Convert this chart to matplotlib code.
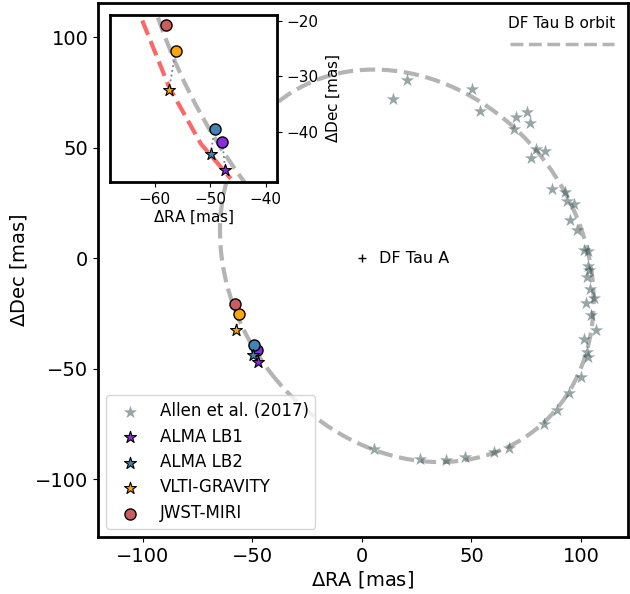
import matplotlib.pyplot as plt
from matplotlib.patches import Ellipse
from matplotlib.lines import Line2D

# Allen et al. (2017) relative astrometry of DF Tau B [mas]
allen_ra = [14.3, 20.4, 50.1, 53.9, 70.2, 75.2, 76.7, 69.4, 79.5, 83.6, 77.0,
            86.6, 92.7, 93.8, 96.8, 95.0, 98.0, 101.5, 103.3, 103.3, 102.6,
            103.8, 104.1, 105.9, 102.3, 104.6, 106.8, 101.5, 102.6, 103.3,
            99.9, 5.5, 26.5, 38.2, 47.3, 60.3, 67.1, 83.1, 89.2, 94.5]
allen_dec = [72.1, 80.6, 76.7, 66.5, 64.0, 66.0, 61.2, 58.5, 49.4, 48.3, 45.3,
             31.2, 30.1, 25.6, 24.5, 17.3, 12.7, 3.6, 3.3, -3.6, -8.5,
             -5.5, -14.2, -17.9, -20.3, -25.9, -32.7, -36.8, -42.6, -44.9,
             -54.0, -86.5, -91.0, -91.5, -90.0, -87.6, -86.0, -74.9, -68.8, -61.2]

# new epochs: measured (stars) and predicted on the orbit (circles)
lb1_ra, lb1_dec = -47.3, -46.9
lb1_pred_ra, lb1_pred_dec = -47.8, -41.8
lb2_ra, lb2_dec = -49.9, -43.9
lb2_pred_ra, lb2_pred_dec = -49.2, -39.4
grav_ra, grav_dec = -57.4, -32.4
grav_pred_ra, grav_pred_dec = -56.2, -25.5
jwst_ra, jwst_dec = -58.0, -20.8

# DF Tau B orbit (ellipse)
orbit_center = (20.5, -3.5)
orbit_width = 189.2
orbit_height = 157.6
orbit_angle = -51.4

# other orbit track shown in the zoom
alt_ra = [-62.2, -57.4, -51.7, -46.3]
alt_dec = [-20.0, -31.9, -42.1, -48.4]

orbit_color = '#b4b4b4'


def draw(ax, ms=64, ms_star=80):
    ax.add_patch(Ellipse(orbit_center, orbit_width, orbit_height, angle=orbit_angle,
                         fill=False, ls='--', lw=3, color=orbit_color, zorder=1))
    for p, o in [((grav_pred_ra, grav_pred_dec), (grav_ra, grav_dec)),
                 ((lb2_pred_ra, lb2_pred_dec), (lb2_ra, lb2_dec)),
                 ((lb1_pred_ra, lb1_pred_dec), (lb1_ra, lb1_dec))]:
        ax.plot([p[0], o[0]], [p[1], o[1]], ls=':', color='gray', lw=1.3, zorder=2)
    ax.scatter(lb1_pred_ra, lb1_pred_dec, s=ms, c='blueviolet', edgecolors='k', lw=1, zorder=3)
    ax.scatter(lb2_pred_ra, lb2_pred_dec, s=ms, c='steelblue', edgecolors='k', lw=1, zorder=3)
    ax.scatter(grav_pred_ra, grav_pred_dec, s=ms, c='orange', edgecolors='k', lw=1, zorder=3)
    ax.scatter(allen_ra, allen_dec, s=100, marker='*', c='darkslategray', alpha=0.5,
               lw=0, zorder=3, label='Allen et al. (2017)')
    ax.scatter(lb1_ra, lb1_dec, s=ms_star, marker='*', c='blueviolet', edgecolors='k', lw=0.8,
               zorder=4, label='ALMA LB1')
    ax.scatter(lb2_ra, lb2_dec, s=ms_star, marker='*', c='steelblue', edgecolors='k', lw=0.8,
               zorder=4, label='ALMA LB2')
    ax.scatter(grav_ra, grav_dec, s=ms_star, marker='*', c='orange', edgecolors='k', lw=0.8,
               zorder=4, label='VLTI-GRAVITY')
    ax.scatter(jwst_ra, jwst_dec, s=ms, c='indianred', edgecolors='k', lw=1,
               zorder=3, label='JWST-MIRI')


fig = plt.figure(figsize=(6.3, 5.94), dpi=100)
ax = fig.add_axes([98 / 630, 57 / 594, 530 / 630, 534 / 594])
draw(ax)
ax.plot(0, 0, '+', color='k', ms=6, mew=1)
ax.text(8, 0, 'DF Tau A', va='center', fontsize=11.5)
ax.set_xlim(-120.5, 121.5)
ax.set_ylim(-126.2, 115.4)
ax.set_xlabel(r'$\Delta$RA [mas]', fontsize=14, labelpad=2)
ax.set_ylabel(r'$\Delta$Dec [mas]', fontsize=14)
ax.tick_params(labelsize=14)
for s in ax.spines.values():
    s.set_linewidth(2)

leg1 = ax.legend(loc='lower left', fontsize=12, borderaxespad=0.5, labelspacing=0.45)
ax.add_artist(leg1)
orbit_handle = Line2D([], [], ls='--', lw=2.5, color=orbit_color)
ax.legend(handles=[orbit_handle], labels=[''], title='DF Tau B orbit', title_fontsize=11,
          loc='upper right', frameon=False, handlelength=7.5, handletextpad=0)

# zoom on the recent epochs
axin = fig.add_axes([110 / 630, (594 - 182) / 594, 167 / 630, 167 / 594])
draw(axin)
axin.plot(alt_ra, alt_dec, ls='--', lw=3, color='#ff6666', zorder=1)
axin.set_xlim(-68, -38)
axin.set_ylim(-49, -19)
axin.set_xticks([-60, -50, -40])
axin.set_yticks([-40, -30, -20])
axin.yaxis.tick_right()
axin.yaxis.set_label_position('right')
axin.set_xlabel(r'$\Delta$RA [mas]', fontsize=11, labelpad=1)
axin.set_ylabel(r'$\Delta$Dec [mas]', fontsize=11)
axin.tick_params(labelsize=11)
for s in axin.spines.values():
    s.set_linewidth(2)

fig.savefig('out.png', dpi=100)
